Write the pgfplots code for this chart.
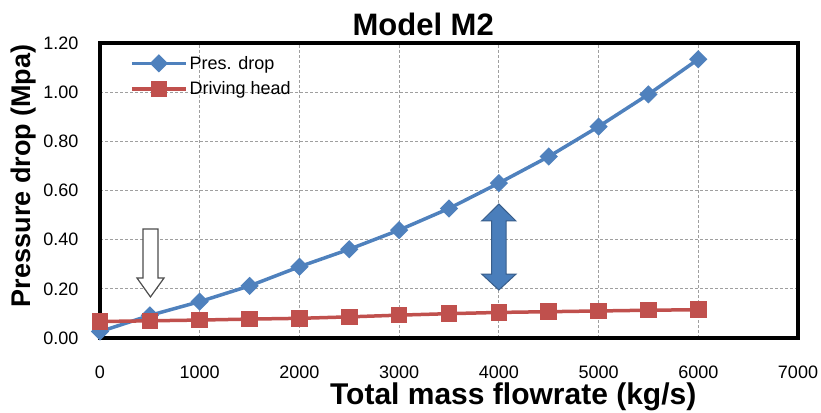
\documentclass[border=0pt]{standalone}
\usepackage{pgfplots}
\pgfplotsset{compat=1.18}
\usepackage{fontspec}
\setmainfont{Liberation Sans}
\definecolor{pblue}{HTML}{4F81BD}
\definecolor{pred}{HTML}{C0504D}
\definecolor{adark}{HTML}{385D8A}
\definecolor{afill}{HTML}{4A7EBB}
\begin{document}
\begin{tikzpicture}
\begin{axis}[
  scale only axis,
  width=698pt, height=295pt,
  xmin=0, xmax=7000, ymin=0, ymax=1.2,
  xtick={0,1000,...,7000},
  ytick={0,0.2,...,1.2},
  scaled x ticks=false, scaled y ticks=false,
  /pgf/number format/assume math mode=true,
  /pgf/number format/1000 sep={},
  yticklabel style={/pgf/number format/fixed,/pgf/number format/fixed zerofill,/pgf/number format/precision=2, font=\fontsize{18}{20}\selectfont, xshift=-18pt},
  xticklabel style={font=\fontsize{18}{20}\selectfont, yshift=-24pt},
  major tick length=0pt,
  axis line style={line width=3.5pt, black},
  grid=major,
  major grid style={gray!75, line width=1pt, dash pattern=on 3pt off 2pt},
  title={Model M2},
  title style={font=\fontsize{31}{33}\selectfont\bfseries, at={(axis description cs:0.463,1)}, anchor=south, yshift=-2pt},
  xlabel={Total mass flowrate (kg/s)},
  xlabel style={font=\fontsize{30}{32}\selectfont\bfseries, at={(axis description cs:0.592,0)}, anchor=center, yshift=-59pt},
  ylabel={Pressure drop (Mpa)},
  ylabel style={font=\fontsize{27}{29}\selectfont\bfseries, at={(axis description cs:0,0.55)}, anchor=center, yshift=76pt},
  legend style={at={(axis description cs:0.04,0.97)}, anchor=north west, draw=none, fill=none,
    font=\fontsize{18}{20}\selectfont, row sep=7pt, inner sep=2pt},
  legend cell align=left,
  legend image code/.code={\draw[mark repeat=2,mark phase=2] plot coordinates {(0pt,0pt) (27pt,0pt) (54pt,0pt)};},
  clip=false,
]
\addplot[pblue, line width=3.5pt, mark=square*, mark size=4.7pt, mark options={rotate=45, solid}] coordinates {
(0,0.026) (500,0.092) (1000,0.148) (1500,0.212) (2000,0.290) (2500,0.361) (3000,0.439)
(3500,0.527) (4000,0.630) (4500,0.738) (5000,0.860) (5500,0.991) (6000,1.134)};
\addlegendentry{Pres. drop}
\addplot[pred, line width=3.5pt, mark=square*, mark size=6.5pt] coordinates {
(0,0.067) (500,0.070) (1000,0.073) (1500,0.077) (2000,0.080) (2500,0.086) (3000,0.093)
(3500,0.099) (4000,0.104) (4500,0.107) (5000,0.110) (5500,0.113) (6000,0.115)};
\addlegendentry{Driving head}
% hollow arrow
\draw[gray!60!black, line width=1.2pt, fill=white, line join=miter]
  (axis cs:431,0.443) -- (axis cs:582,0.443) -- (axis cs:582,0.244) -- (axis cs:642,0.244)
  -- (axis cs:506,0.167) -- (axis cs:371,0.244) -- (axis cs:431,0.244) -- cycle;
% double arrow
\draw[adark, line width=1pt, fill=afill, line join=miter]
  (axis cs:4000,0.545) -- (axis cs:4172,0.476) -- (axis cs:4072,0.476) -- (axis cs:4072,0.260)
  -- (axis cs:4172,0.260) -- (axis cs:4000,0.195) -- (axis cs:3828,0.260) -- (axis cs:3928,0.260)
  -- (axis cs:3928,0.476) -- (axis cs:3828,0.476) -- cycle;
\end{axis}
\pgfresetboundingbox
\path[use as bounding box] ([shift={(-100pt,-74pt)}]current axis.south west) rectangle ([shift={(23pt,43pt)}]current axis.north east);
\end{tikzpicture}
\end{document}
